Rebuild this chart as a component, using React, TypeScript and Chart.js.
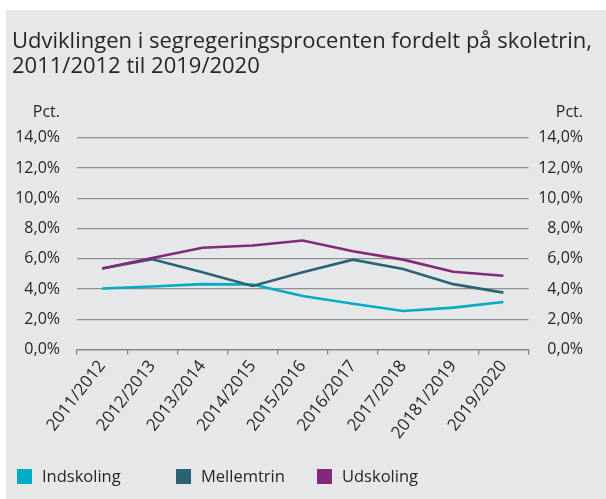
import React, { useEffect, useRef } from "react";
import { Chart, registerables } from "chart.js";

Chart.register(...registerables);

const titleLines = [
  "Udviklingen i segregeringsprocenten fordelt på skoletrin,",
  "2011/2012 til 2019/2020",
];
const categories = [
  "2011/2012",
  "2012/2013",
  "2013/2014",
  "2014/2015",
  "2015/2016",
  "2016/2017",
  "2017/2018",
  "20181/2019",
  "2019/2020",
];
const indskoling = [4.03, 4.16, 4.32, 4.3, 3.54, 3.03, 2.55, 2.77, 3.14];
const mellemtrin = [5.36, 5.96, 5.1, 4.2, 5.1, 5.94, 5.32, 4.32, 3.76];
const udskoling = [5.36, 6.05, 6.73, 6.87, 7.2, 6.49, 5.94, 5.14, 4.87];
const seriesNames = ["Indskoling", "Mellemtrin", "Udskoling"];
const seriesColors = ["#00abc4", "#2a6474", "#82297a"];
const axisUnit = "Pct.";
const yMin = 0;
const yMax = 14;
const yStep = 2;

const FONT = "'Open Sans', Lato, sans-serif";
const TEXT = "#262626";
const W = 600;
const H = 489;

const fmt = (v: number) => v.toFixed(1).replace(".", ",") + "%";

const textPlugin = {
  id: "texts",
  afterDraw(chart: any) {
    const ctx = chart.ctx;
    ctx.save();
    ctx.fillStyle = TEXT;
    ctx.font = `22px ${FONT}`;
    ctx.textAlign = "left";
    ctx.textBaseline = "alphabetic";
    ctx.fillText(titleLines[0], 6, 38);
    ctx.fillText(titleLines[1], 6, 63);
    ctx.font = `16px ${FONT}`;
    ctx.textAlign = "right";
    ctx.textBaseline = "middle";
    const yl = chart.scales.y;
    const yr = chart.scales.y2;
    ctx.fillText(axisUnit, yl.right - 17, 102);
    ctx.fillText(axisUnit, yr.right, 102);
    ctx.restore();
  },
};

export default function App() {
  const ref = useRef<HTMLCanvasElement | null>(null);
  useEffect(() => {
    if (!ref.current) return;
    const series = [indskoling, mellemtrin, udskoling];
    const chart = new Chart(ref.current, {
      type: "line",
      data: {
        labels: categories,
        datasets: series.map((d, i) => ({
          label: seriesNames[i],
          data: d,
          borderColor: seriesColors[i],
          backgroundColor: seriesColors[i],
          borderWidth: 2.6,
          pointRadius: 0,
          tension: 0,
          fill: false,
          order: series.length - i,
          yAxisID: "y",
        })),
      },
      options: {
        animation: false,
        responsive: false,
        maintainAspectRatio: false,
        layout: { padding: { top: 127.7, left: 0, right: 23, bottom: 0 } },
        plugins: {
          legend: { display: false },
          tooltip: { enabled: false },
          title: { display: false },
        },
        scales: {
          x: {
            type: "category",
            offset: true,
            grid: {
              offset: true,
              drawOnChartArea: false,
              drawTicks: true,
              tickLength: 5,
              color: "#808080",
              lineWidth: 1.3,
            },
            border: { display: true, color: "#808080", width: 1.3 },
            ticks: {
              autoSkip: false,
              minRotation: 52,
              maxRotation: 52,
              padding: 2,
              color: TEXT,
              font: { family: FONT, size: 17 },
            },
            afterFit: (s: any) => {
              s.height = 149.5;
            },
          },
          y: {
            position: "left",
            min: yMin,
            max: yMax,
            ticks: {
              stepSize: yStep,
              padding: 17,
              color: TEXT,
              font: { family: FONT, size: 16 },
              callback: (v: any) => fmt(Number(v)),
            },
            grid: { color: "#909090", lineWidth: 1.2, drawTicks: false },
            border: { display: false },
            afterFit: (s: any) => {
              s.width = 71;
            },
          },
          y2: {
            position: "right",
            min: yMin,
            max: yMax,
            ticks: {
              stepSize: yStep,
              padding: 7,
              crossAlign: "far",
              color: TEXT,
              font: { family: FONT, size: 16 },
              callback: (v: any) => fmt(Number(v)),
            },
            grid: { display: false, drawTicks: false },
            border: { display: false },
            afterFit: (s: any) => {
              s.width = 54.5;
            },
          },
        },
      } as any,
      plugins: [textPlugin],
    });
    return () => chart.destroy();
  }, []);

  return (
    <div
      style={{
        position: "absolute",
        left: 6,
        top: 10,
        width: W,
        height: H,
        background: "#e6e7e9",
      }}
    >
      <canvas ref={ref} width={W} height={H} style={{ width: W, height: H, display: "block" }} />
      <div
        style={{
          position: "absolute",
          left: 11,
          top: 458,
          display: "flex",
          alignItems: "center",
          fontFamily: FONT,
          fontSize: 16.5,
          color: TEXT,
          height: 16,
        }}
      >
        {seriesNames.map((n, i) => (
          <div
            key={n}
            style={{
              display: "flex",
              alignItems: "center",
              width: i === 0 ? 159 : i === 1 ? 141 : "auto",
            }}
          >
            <span
              style={{
                display: "inline-block",
                width: 15,
                height: 15,
                background: seriesColors[i],
                marginRight: 10,
              }}
            />
            <span style={{ lineHeight: "16px" }}>{n}</span>
          </div>
        ))}
      </div>
    </div>
  );
}
